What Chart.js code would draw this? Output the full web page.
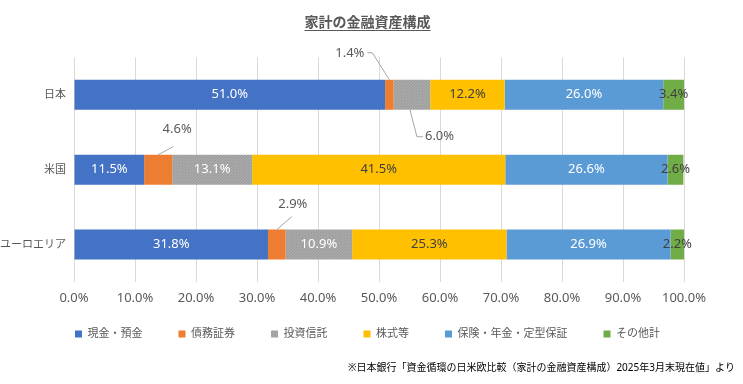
<!DOCTYPE html>
<html><head><meta charset="utf-8">
<script src="https://cdn.jsdelivr.net/npm/chart.js"></script>
<style>html,body{margin:0;padding:0;background:#fff}#wrap{width:743px;height:384px;position:relative}</style>
</head><body><div id="wrap"><canvas id="c" width="743" height="384"></canvas></div>
<script>
const categories = ['日本', '米国', 'ユーロエリア'];
const seriesNames = ['現金・預金', '債務証券', '投資信託', '株式等', '保険・年金・定型保証', 'その他計'];
const cash = [51.0, 11.5, 31.8];
const bonds = [1.4, 4.6, 2.9];
const funds = [6.0, 13.1, 10.9];
const equities = [12.2, 41.5, 25.3];
const insurance = [26.0, 26.6, 26.9];
const others = [3.4, 2.6, 2.2];
const xTicks = [0, 10, 20, 30, 40, 50, 60, 70, 80, 90, 100];
const titleText = '家計の金融資産構成';
const noteText = '※日本銀行「資金循環の日米欧比較（家計の金融資産構成）2025年3月末現在値」より';

const FONT = '"Noto Sans", "Noto Sans CJK JP", sans-serif';
Chart.defaults.font.family = FONT;

function grayPattern() {
  const p = document.createElement('canvas');
  p.width = 3; p.height = 3;
  const g = p.getContext('2d');
  g.fillStyle = '#a6a6a6'; g.fillRect(0, 0, 3, 3);
  g.fillStyle = '#9c9c9c'; g.fillRect(0, 0, 1, 1); g.fillRect(2, 1, 1, 1); g.fillRect(1, 2, 1, 1);
  g.fillStyle = '#adadad'; g.fillRect(1, 0, 1, 1); g.fillRect(0, 2, 1, 1);
  return g.createPattern(p, 'repeat');
}

const colors = ['#4472C4', '#ED7D31', grayPattern(), '#FFC000', '#5B9BD5', '#70AD47'];
const labelColors = ['#ffffff', '#ffffff', '#ffffff', '#404040', '#ffffff', '#404040'];
const seriesValues = [cash, bonds, funds, equities, insurance, others];

// callout label styling (offsets relative to bar edge)
const callouts = {
  '1-0': {edge: 'top', pts: [[0, 0], [-17, -27], [-22, -27]], text: [-25, -26], align: 'right'},
  '2-0': {edge: 'bottom', pts: [[-2, 0], [5, 27], [11, 27]], text: [13, 27], align: 'left'},
  '1-1': {edge: 'top', pts: [[0, 0], [15, -8]], text: [19, -25], align: 'center'},
  '1-2': {edge: 'top', pts: [[0, 0], [15, -13]], text: [16, -25], align: 'center'}
};

const labelPlugin = {
  id: 'valueLabels',
  afterDatasetsDraw(chart) {
    const ctx = chart.ctx;
    ctx.save();
    ctx.font = '13px ' + FONT;
    ctx.textBaseline = 'middle';
    chart.data.datasets.forEach((ds, di) => {
      const meta = chart.getDatasetMeta(di);
      meta.data.forEach((bar, i) => {
        const v = ds.data[i];
        const txt = v.toFixed(1) + '%';
        const cx = (bar.x + bar.base) / 2;
        const h = bar.height;
        const c = callouts[di + '-' + i];
        if (c) {
          const ey = c.edge === 'top' ? bar.y - h / 2 : bar.y + h / 2;
          ctx.strokeStyle = '#a6a6a6';
          ctx.lineWidth = 1;
          ctx.beginPath();
          c.pts.forEach((p, k) => {
            const px = cx + p[0], py = ey + p[1];
            if (k === 0) ctx.moveTo(px, py); else ctx.lineTo(px, py);
          });
          ctx.stroke();
          ctx.fillStyle = '#595959';
          ctx.textAlign = c.align;
          ctx.fillText(txt, cx + c.text[0], ey + c.text[1]);
        } else {
          ctx.fillStyle = labelColors[di];
          ctx.textAlign = 'center';
          ctx.fillText(txt, cx, bar.y);
        }
      });
    });
    ctx.restore();
  }
};

const layoutPlugin = {
  id: 'layoutTweaks',
  beforeLayout(chart) {
    const lg = chart.legend;
    if (lg && !lg._wrapped) {
      const orig = lg.fit;
      lg.fit = function () { orig.call(this); this.height = 54; };
      lg._wrapped = true;
    }
  },
  afterLayout(chart) {
    const lg = chart.legend;
    if (lg) { lg.top -= 13.5; lg.bottom -= 13.5; }
  },
  afterDraw(chart) {
    const tb = chart.titleBlock;
    if (!tb) return;
    const ctx = chart.ctx;
    ctx.save();
    ctx.font = 'bold 14px ' + FONT;
    const w = ctx.measureText(titleText).width;
    const cx = (tb.left + tb.right) / 2;
    ctx.strokeStyle = '#595959';
    ctx.lineWidth = 1;
    ctx.beginPath();
    ctx.moveTo(cx - w / 2, 30.5);
    ctx.lineTo(cx + w / 2, 30.5);
    ctx.stroke();
    ctx.restore();
  }
};

new Chart(document.getElementById('c'), {
  type: 'bar',
  data: {
    labels: categories,
    datasets: seriesNames.map((n, k) => ({
      label: n,
      data: seriesValues[k],
      backgroundColor: colors[k],
      borderWidth: 0,
      categoryPercentage: 1,
      barPercentage: 0.4
    }))
  },
  options: {
    indexAxis: 'y',
    responsive: false,
    animation: false,
    devicePixelRatio: 1,
    layout: {padding: {left: 0, right: 8, top: 0, bottom: 4}},
    scales: {
      x: {
        type: 'linear', stacked: true, min: 0, max: 100, position: 'bottom',
        afterBuildTicks: s => { s.ticks = xTicks.map(v => ({value: v})); },
        afterFit: s => { s.height = 24; },
        ticks: {callback: v => Number(v).toFixed(1) + '%', color: '#595959', font: {size: 13}, padding: 8, autoSkip: false, maxRotation: 0},
        grid: {color: '#D9D9D9', drawTicks: false},
        border: {display: false}
      },
      y: {
        type: 'category', stacked: true,
        grid: {display: false, drawTicks: false},
        border: {display: false},
        ticks: {color: '#595959', font: {size: 11}, padding: 8},
        afterFit: s => { s.width = 74; }
      },
      y2: {
        type: 'category', position: 'right', display: true,
        grid: {display: false, drawTicks: false},
        border: {display: false},
        ticks: {display: false},
        afterFit: s => { s.width = 51; }
      }
    },
    plugins: {
      title: {display: true, text: titleText, color: '#595959', font: {size: 14, weight: 'bold'}, padding: {top: 15, bottom: 25.5}},
      subtitle: {display: true, text: noteText, position: 'bottom', align: 'end', color: '#000000', font: {size: 10}, padding: {top: 2, bottom: 6}},
      legend: {position: 'bottom', labels: {boxWidth: 7, boxHeight: 7, color: '#595959', font: {size: 11}, padding: 36}},
      tooltip: {enabled: false}
    }
  },
  plugins: [labelPlugin, layoutPlugin]
});
</script>
</body></html>
